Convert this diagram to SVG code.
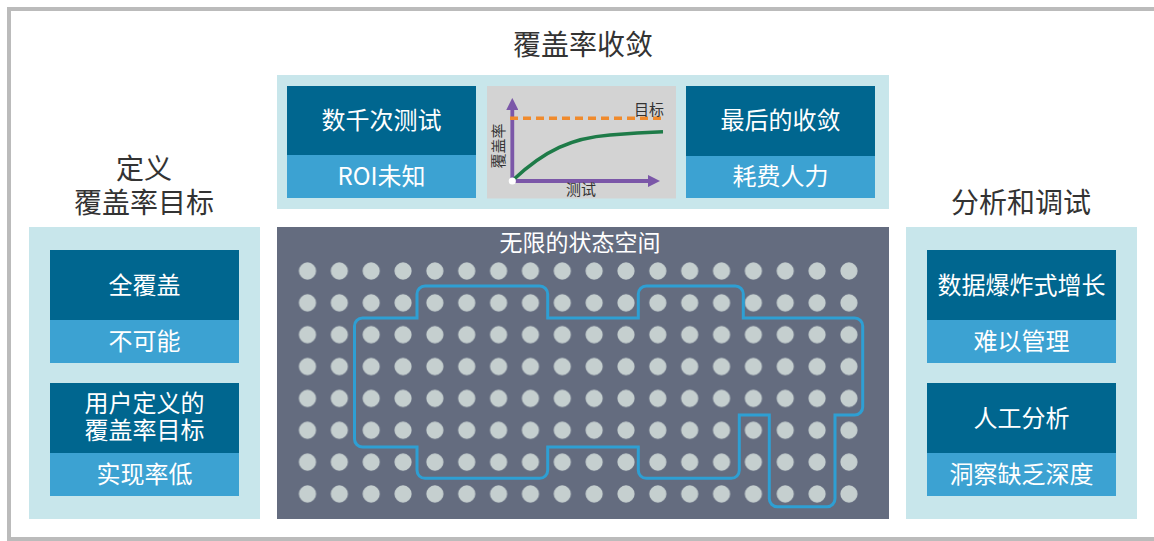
<svg xmlns="http://www.w3.org/2000/svg" width="1154" height="541" viewBox="0 0 1154 541">
<style>
.panel{fill:#c8e6eb}
.dark{fill:#00668f}
.light{fill:#3ca2d2}
.t{font-family:"Noto Sans CJK SC","Noto Sans",sans-serif;text-anchor:middle;dominant-baseline:central}
.title{font-size:28px;fill:#333333}
.bt{font-size:24px;fill:#ffffff}
.ct{font-size:15px;fill:#333333}
</style>
<defs>
<pattern id="dots" x="291.575" y="255.075" width="31.85" height="31.85" patternUnits="userSpaceOnUse">
<circle cx="15.925" cy="15.925" r="8.6" fill="#c5cfcf"/>
</pattern>
<marker id="arr" viewBox="0 0 10 10" refX="5" refY="5" markerWidth="3.2" markerHeight="3.2" orient="auto" markerUnits="strokeWidth">
<path d="M0,0 L10,5 L0,10 Z" fill="#7b57a8"/>
</marker>
</defs>
<rect x="9" y="9" width="1160" height="530" fill="#ffffff" stroke="#bbbbbb" stroke-width="4"/>

<g id="title-converge">
<text class="t title" x="583" y="43">覆盖率收敛</text>
</g>
<g id="title-define">
<text class="t title" x="144" y="167">定义</text>
<text class="t title" x="144" y="201">覆盖率目标</text>
</g>
<g id="title-analyze">
<text class="t title" x="1021" y="201">分析和调试</text>
</g>

<g id="panel-top">
<rect class="panel" x="277" y="75" width="612" height="134"/>
</g>
<g id="box-tests">
<rect class="dark" x="287" y="86" width="189" height="69"/>
<rect class="light" x="287" y="155" width="189" height="43"/>
<text class="t bt" x="381.5" y="118">数千次测试</text>
<text class="t bt" x="381.5" y="174">ROI未知</text>
</g>
<g id="chart">
<rect x="487" y="86" width="189" height="112.5" fill="#d3d3d3"/>
<line x1="512.3" y1="181" x2="512.3" y2="104" stroke="#7b57a8" stroke-width="3.8" marker-end="url(#arr)"/>
<line x1="512.3" y1="181" x2="654" y2="181" stroke="#7b57a8" stroke-width="3.8" marker-end="url(#arr)"/>
<line x1="510" y1="118.3" x2="665" y2="118.3" stroke="#f08a2c" stroke-width="3.5" stroke-dasharray="8,5"/>
<path d="M513,180 C545,150 572,138 610,135 C635,133 650,132.3 663,131.8" fill="none" stroke="#1e7b48" stroke-width="3.5"/>
<circle cx="512.3" cy="181" r="3.6" fill="#ffffff"/>
<text class="t ct" x="649" y="108.5">目标</text>
<text class="t ct" x="581" y="188.5">测试</text>
<text class="t ct" x="0" y="0" transform="translate(497.5,146) rotate(-90)">覆盖率</text>
</g>
<g id="box-final">
<rect class="dark" x="686" y="86" width="189" height="70"/>
<rect class="light" x="686" y="156" width="189" height="42"/>
<text class="t bt" x="780.5" y="118">最后的收敛</text>
<text class="t bt" x="780.5" y="174">耗费人力</text>
</g>

<g id="panel-left">
<rect class="panel" x="29" y="227" width="231" height="292"/>
</g>
<g id="box-full">
<rect class="dark" x="50" y="250" width="189" height="70"/>
<rect class="light" x="50" y="320" width="189" height="43"/>
<text class="t bt" x="144.5" y="283">全覆盖</text>
<text class="t bt" x="144.5" y="339">不可能</text>
</g>
<g id="box-user">
<rect class="dark" x="50" y="383" width="189" height="70"/>
<rect class="light" x="50" y="453" width="189" height="43"/>
<text class="t bt" x="144.5" y="401.5">用户定义的</text>
<text class="t bt" x="144.5" y="428">覆盖率目标</text>
<text class="t bt" x="144.5" y="472">实现率低</text>
</g>

<g id="state-space">
<rect x="277" y="227" width="612" height="292" fill="#646c7f"/>
<text class="t" x="580" y="241" font-size="23" fill="#ffffff">无限的状态空间</text>
<rect x="291.575" y="255.075" width="573.3" height="254.8" fill="url(#dots)"/>
</g>
<g id="connectors">
<path d="M354.5,439 V326 A8,8 0 0 1 362.5,318 H417 V294 A8,8 0 0 1 425,286 H539.7 A8,8 0 0 1 547.7,294 V318 H638.3 V294 A8,8 0 0 1 646.3,286 H735.3 A8,8 0 0 1 743.3,294 V318 H854.7 A8,8 0 0 1 862.7,326 V407 A8,8 0 0 1 854.7,415 H835 V498.7 A8,8 0 0 1 827,506.7 H777.3 A8,8 0 0 1 769.3,498.7 V415 H739.3 V470.3 A8,8 0 0 1 731.3,478.3 H646.3 A8,8 0 0 1 638.3,470.3 V447 H547.7 V470.3 A8,8 0 0 1 539.7,478.3 H425 A8,8 0 0 1 417,470.3 V447 H362.5 A8,8 0 0 1 354.5,439 Z" fill="none" stroke="#2e9fd3" stroke-width="3"/>
</g>

<g id="panel-right">
<rect class="panel" x="906" y="227" width="231" height="292"/>
</g>
<g id="box-data">
<rect class="dark" x="927" y="250" width="189" height="70"/>
<rect class="light" x="927" y="320" width="189" height="43"/>
<text class="t bt" x="1021.5" y="283">数据爆炸式增长</text>
<text class="t bt" x="1021.5" y="339">难以管理</text>
</g>
<g id="box-manual">
<rect class="dark" x="927" y="383" width="189" height="70"/>
<rect class="light" x="927" y="453" width="189" height="43"/>
<text class="t bt" x="1021.5" y="416">人工分析</text>
<text class="t bt" x="1021.5" y="472">洞察缺乏深度</text>
</g>
</svg>
